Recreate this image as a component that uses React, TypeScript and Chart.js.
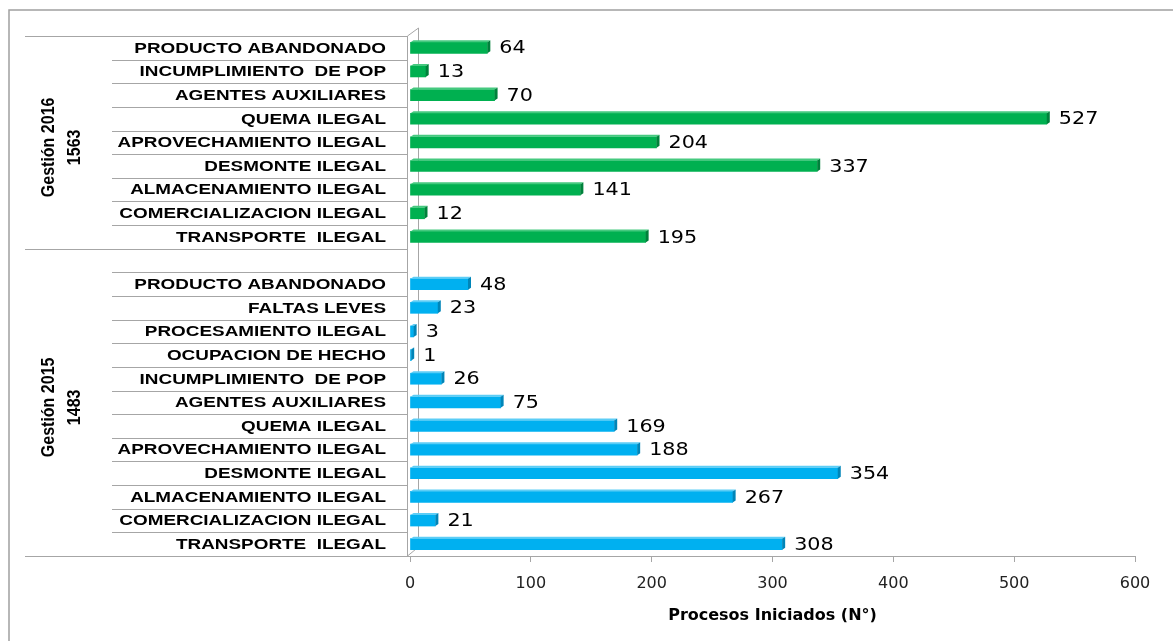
import React, { useEffect, useRef } from "react";
import { Chart, registerables } from "chart.js";

Chart.register(...registerables);

const labels2016 = [
  "PRODUCTO ABANDONADO",
  "INCUMPLIMIENTO  DE POP",
  "AGENTES AUXILIARES",
  "QUEMA ILEGAL",
  "APROVECHAMIENTO ILEGAL",
  "DESMONTE ILEGAL",
  "ALMACENAMIENTO ILEGAL",
  "COMERCIALIZACION ILEGAL",
  "TRANSPORTE  ILEGAL",
];
const values2016 = [64, 13, 70, 527, 204, 337, 141, 12, 195];

const labels2015 = [
  "",
  "PRODUCTO ABANDONADO",
  "FALTAS LEVES",
  "PROCESAMIENTO ILEGAL",
  "OCUPACION DE HECHO",
  "INCUMPLIMIENTO  DE POP",
  "AGENTES AUXILIARES",
  "QUEMA ILEGAL",
  "APROVECHAMIENTO ILEGAL",
  "DESMONTE ILEGAL",
  "ALMACENAMIENTO ILEGAL",
  "COMERCIALIZACION ILEGAL",
  "TRANSPORTE  ILEGAL",
];
const values2015: (number | null)[] = [null, 48, 23, 3, 1, 26, 75, 169, 188, 354, 267, 21, 308];

const groupNames = ["Gestión 2016", "Gestión 2015"];
const groupTotals = ["1563", "1483"];
const xMin = 0;
const xMax = 600;
const xStep = 100;
const xAxisTitle = "Procesos Iniciados (N°)";

const GREEN = "#00B050";
const GREEN_TOP = "#45c97f";
const GREEN_END = "#00813b";
const BLUE = "#00B0F0";
const BLUE_TOP = "#5ccdf6";
const BLUE_END = "#0085b8";
const LINE = "#a6a6a6";

function scaledText(ctx: CanvasRenderingContext2D, text: string, x: number, y: number, sx: number, sy = 1) {
  ctx.save();
  ctx.translate(x, y);
  ctx.scale(sx, sy);
  ctx.fillText(text, 0, 0);
  ctx.restore();
}

const decorPlugin = {
  id: "decor",
  beforeDraw(chart: any) {
    const ctx: CanvasRenderingContext2D = chart.ctx;
    ctx.save();
    ctx.fillStyle = "#ffffff";
    ctx.fillRect(0, 0, chart.width, chart.height);
    ctx.strokeStyle = "#a0a0a0";
    ctx.lineWidth = 1.5;
    ctx.strokeRect(9, 10, chart.width + 20, chart.height + 20);
    ctx.restore();
  },
  beforeDatasetsDraw(chart: any) {
    const ctx: CanvasRenderingContext2D = chart.ctx;
    const y = chart.scales.y;
    const area = chart.chartArea;
    const n = labels2016.length + labels2015.length;
    const wallX = area.left - 3;
    ctx.save();
    ctx.strokeStyle = LINE;
    ctx.lineWidth = 1;
    for (let i = -1; i < n; i++) {
      const py = Math.round(y.getPixelForValue(i + 0.5)) + 0.5;
      const isGroup = i === -1 || i === labels2016.length - 1 || i === n - 1;
      ctx.beginPath();
      ctx.moveTo(isGroup ? 25 : 112, py);
      ctx.lineTo(i === n - 1 ? area.left : wallX, py);
      ctx.stroke();
    }
    const top = Math.round(y.getPixelForValue(-0.5));
    const bot = Math.round(y.getPixelForValue(n - 0.5));
    ctx.beginPath();
    ctx.moveTo(wallX + 0.5, bot);
    ctx.lineTo(wallX + 0.5, top);
    ctx.lineTo(wallX + 11.5, top - 8);
    ctx.lineTo(wallX + 11.5, bot - 9);
    ctx.lineTo(wallX + 0.5, bot);
    ctx.stroke();

    ctx.fillStyle = "#000";
    ctx.font = "bold 14px 'Liberation Sans', Arial, sans-serif";
    ctx.textAlign = "right";
    ctx.textBaseline = "middle";
    const labels = chart.data.labels as string[];
    labels.forEach((lab, i) => {
      if (!lab) return;
      scaledText(ctx, lab, 386, y.getPixelForValue(i) + 1, 1.35);
    });

    ctx.font = "bold 16px 'Liberation Sans', Arial, sans-serif";
    ctx.textAlign = "center";
    const ranges = [
      [0, labels2016.length - 1],
      [labels2016.length, n - 1],
    ];
    ranges.forEach(([a, b], g) => {
      const yc = (y.getPixelForValue(a) + y.getPixelForValue(b)) / 2 + 5;
      [groupNames[g], groupTotals[g]].forEach((t, k) => {
        ctx.save();
        ctx.translate(k === 0 ? 49 : 75, yc);
        ctx.rotate(-Math.PI / 2);
        ctx.scale(1, 1.15);
        ctx.fillText(t, 0, 0);
        ctx.restore();
      });
    });
    ctx.restore();
  },
  afterDatasetsDraw(chart: any) {
    const ctx: CanvasRenderingContext2D = chart.ctx;
    const d = 3;
    const dy = 2;
    ctx.save();
    chart.data.datasets.forEach((ds: any, di: number) => {
      const meta = chart.getDatasetMeta(di);
      const topC = di === 0 ? GREEN_TOP : BLUE_TOP;
      const endC = di === 0 ? GREEN_END : BLUE_END;
      meta.data.forEach((el: any, i: number) => {
        const v = ds.data[i];
        if (v === null || v === undefined) return;
        const { x, y, base, height } = el.getProps(["x", "y", "base", "height"], true);
        const t = y - height / 2;
        const b = y + height / 2;
        ctx.fillStyle = topC;
        ctx.beginPath();
        ctx.moveTo(base, t);
        ctx.lineTo(base + d, t - dy);
        ctx.lineTo(x + d, t - dy);
        ctx.lineTo(x, t);
        ctx.closePath();
        ctx.fill();
        ctx.fillStyle = endC;
        ctx.beginPath();
        ctx.moveTo(x, t);
        ctx.lineTo(x + d, t - dy);
        ctx.lineTo(x + d, b - dy);
        ctx.lineTo(x, b);
        ctx.closePath();
        ctx.fill();
        ctx.fillStyle = "#000";
        ctx.font = "18px 'DejaVu Sans', Verdana, sans-serif";
        ctx.textAlign = "left";
        ctx.textBaseline = "middle";
        scaledText(ctx, String(v), x + d + 9, y + 1, 1.15);
      });
    });
    ctx.restore();
  },
};

export default function App() {
  const ref = useRef<HTMLCanvasElement>(null);
  useEffect(() => {
    if (!ref.current) return;
    const categories = [...labels2016, ...labels2015];
    const chart = new Chart(ref.current, {
      type: "bar",
      data: {
        labels: categories,
        datasets: [
          {
            label: "2016",
            data: [...values2016, ...labels2015.map(() => null)],
            backgroundColor: GREEN,
            barThickness: 11,
            grouped: false,
          } as any,
          {
            label: "2015",
            data: [...labels2016.map(() => null), ...values2015],
            backgroundColor: BLUE,
            barThickness: 11,
            grouped: false,
          } as any,
        ],
      },
      options: {
        indexAxis: "y",
        responsive: false,
        animation: false,
        devicePixelRatio: 1,
        layout: { padding: { left: 410, right: 38, top: 36, bottom: 0 } },
        plugins: { legend: { display: false }, tooltip: { enabled: false } },
        scales: {
          y: { type: "category", display: false, offset: true },
          x: {
            type: "linear",
            min: xMin,
            max: xMax,
            afterFit: (s: any) => {
              s.height = 85;
            },
            ticks: {
              stepSize: xStep,
              padding: 12,
              color: "#222",
              font: { family: "'DejaVu Sans', sans-serif", size: 16 },
            },
            grid: { drawOnChartArea: false, drawTicks: true, tickLength: 6, color: LINE },
            border: { display: true, color: LINE },
            title: {
              display: true,
              text: xAxisTitle,
              color: "#000",
              font: { family: "'DejaVu Sans', sans-serif", size: 16, weight: "bold" },
              padding: { top: 4, bottom: 16 },
            },
          },
        },
      },
      plugins: [decorPlugin],
    });
    return () => chart.destroy();
  }, []);
  return (
    <div style={{ position: "fixed", left: 0, top: 0, width: 1173, height: 641, background: "#fff" }}>
      <canvas ref={ref} width={1173} height={641} style={{ width: 1173, height: 641, display: "block" }} />
    </div>
  );
}
